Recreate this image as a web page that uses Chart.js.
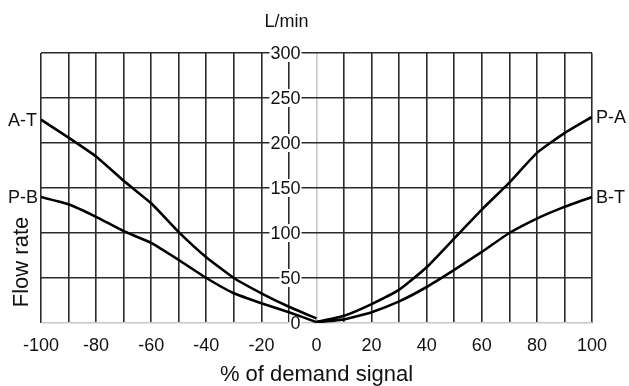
<!DOCTYPE html>
<html>
<head>
<meta charset="utf-8">
<script src="https://cdn.jsdelivr.net/npm/chart.js@4/dist/chart.umd.min.js"></script>
<style>
  html, body { margin: 0; padding: 0; background: #fff; }
  #wrap { width: 629px; height: 386px; }
</style>
</head>
<body>
<div id="wrap"><canvas id="flowChart"></canvas></div>
<script>
// Demand signal (%) for each branch
const signalNeg = [-100, -90, -80, -70, -60, -50, -40, -30, -20, -10, 0];
const signalPos = [0, 10, 20, 30, 40, 50, 60, 70, 80, 90, 100];

// Flow rate (L/min)
const flowAT = [226, 206, 185, 158, 133, 101, 73, 50, 33, 18, 5];
const flowPB = [140, 132, 118, 102, 89, 70, 50, 33, 22, 12, 1];
const flowPA = [1, 8, 21, 37, 62, 94, 126, 156, 189, 211, 229];
const flowBT = [1, 4, 12, 24, 40, 59, 79, 100, 116, 129, 140];

// Y tick labels
const yTicks = [0, 50, 100, 150, 200, 250, 300];

const FONT = '"Liberation Sans", Arial, sans-serif';
const GRID = '#2b2b2b';
const ZERO_GRID = '#c8c8c8';

function toPoints(xs, ys) {
    return xs.map((x, i) => ({ x: x, y: ys[i] }));
}

// Y labels sit in a column next to the zero line, with white behind them
const labelPlugin = {
    id: 'labels',
    beforeDatasetsDraw(chart) {
        const { ctx, scales: { x, y } } = chart;
        const right = x.getPixelForValue(0) - 16;
        ctx.save();
        ctx.font = '18px ' + FONT;
        ctx.textAlign = 'right';
        ctx.textBaseline = 'middle';
        yTicks.forEach(v => {
            const py = y.getPixelForValue(v);
            const txt = String(v);
            const w = ctx.measureText(txt).width;
            ctx.fillStyle = '#fff';
            ctx.fillRect(right - w - 1, py - 9, w + 2, 18);
            ctx.fillStyle = '#111';
            ctx.fillText(txt, right, py + 1);
        });
        // unit label
        ctx.textAlign = 'center';
        ctx.fillText('L/min', right - 14, 22);

        // axis title, rotated
        ctx.save();
        ctx.translate(22, 262);
        ctx.rotate(-Math.PI / 2);
        ctx.font = '22px ' + FONT;
        ctx.fillText('Flow rate', 0, 0);
        ctx.restore();
        ctx.restore();
    },
    afterDatasetsDraw(chart) {
        const { ctx, scales: { x, y } } = chart;
        ctx.save();
        ctx.font = '18px ' + FONT;
        ctx.fillStyle = '#111';
        ctx.textBaseline = 'middle';
        const left = x.getPixelForValue(-100);
        const right = x.getPixelForValue(100);
        ctx.textAlign = 'right';
        ctx.fillText('A-T', left - 4, y.getPixelForValue(flowAT[0]) + 1);
        ctx.fillText('P-B', left - 3, y.getPixelForValue(flowPB[0]) + 1);
        ctx.textAlign = 'left';
        ctx.fillText('P-A', right + 4, y.getPixelForValue(flowPA[flowPA.length - 1]) + 1);
        ctx.fillText('B-T', right + 4, y.getPixelForValue(flowBT[flowBT.length - 1]) + 1);
        ctx.restore();
    }
};

const lineStyle = {
    borderColor: '#000',
    borderWidth: 2.6,
    pointRadius: 0,
    tension: 0.15,
    fill: false
};

new Chart(document.getElementById('flowChart'), {
    type: 'line',
    data: {
        datasets: [
            Object.assign({ label: 'A-T', data: toPoints(signalNeg, flowAT) }, lineStyle),
            Object.assign({ label: 'P-B', data: toPoints(signalNeg, flowPB) }, lineStyle),
            Object.assign({ label: 'P-A', data: toPoints(signalPos, flowPA) }, lineStyle),
            Object.assign({ label: 'B-T', data: toPoints(signalPos, flowBT) }, lineStyle)
        ]
    },
    options: {
        responsive: true,
        maintainAspectRatio: false,
        animation: false,
        layout: { padding: { top: 53, right: 37, left: 0, bottom: 0 } },
        plugins: {
            legend: { display: false },
            tooltip: { enabled: false }
        },
        scales: {
            x: {
                type: 'linear',
                min: -100,
                max: 100,
                afterFit: scale => { scale.height = 63; },
                border: { display: false },
                grid: {
                    drawTicks: false,
                    lineWidth: 1.6,
                    color: c => (c.tick && c.tick.value === 0) ? ZERO_GRID : GRID
                },
                ticks: {
                    stepSize: 10,
                    autoSkip: false,
                    maxRotation: 0,
                    padding: 12,
                    color: '#111',
                    font: { family: FONT, size: 18 },
                    callback: v => (v % 20 === 0) ? String(v) : ''
                },
                title: {
                    display: true,
                    text: '% of demand signal',
                    color: '#111',
                    font: { family: FONT, size: 22, lineHeight: 1 },
                    padding: { top: 0, bottom: 0 }
                }
            },
            y: {
                min: 0,
                max: 300,
                afterFit: scale => { scale.width = 41; },
                border: { display: false },
                grid: {
                    drawTicks: false,
                    lineWidth: 1.6,
                    color: c => (c.tick && c.tick.value === 0) ? ZERO_GRID : GRID
                },
                ticks: { display: false, stepSize: 50 }
            }
        }
    },
    plugins: [labelPlugin]
});
</script>
</body>
</html>
